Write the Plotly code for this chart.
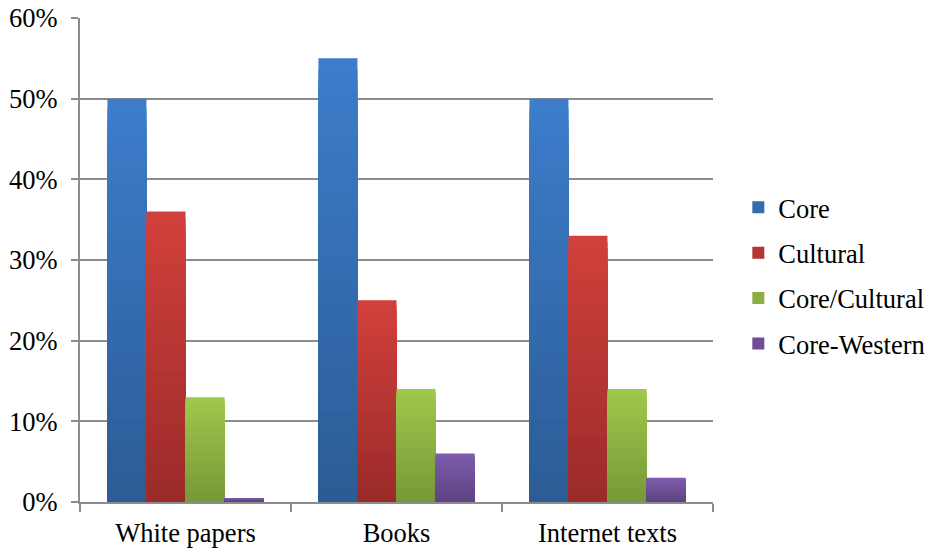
import plotly.graph_objects as go

categories = ["White papers", "Books", "Internet texts"]
series_names = ["Core", "Cultural", "Core/Cultural", "Core-Western"]
core = [0.50, 0.55, 0.50]
cultural = [0.36, 0.25, 0.33]
core_cultural = [0.13, 0.14, 0.14]
core_western = [0.005, 0.06, 0.03]
series_values = [core, cultural, core_cultural, core_western]
y_ticks = [0, 0.1, 0.2, 0.3, 0.4, 0.5, 0.6]

# top (light) and bottom (dark) colour of each series' vertical gradient
gradients = [
    ("#3d7dcc", "#2b5c95"),
    ("#d2403c", "#9a2b29"),
    ("#9fc84c", "#789837"),
    ("#7f5cad", "#5e4381"),
]

STEPS = 40


def hex_to_rgb(h):
    h = h.lstrip("#")
    return tuple(int(h[i:i + 2], 16) for i in (0, 2, 4))


def mix(top, bottom, t):
    a, b = hex_to_rgb(top), hex_to_rgb(bottom)
    r = [round(b[i] + (a[i] - b[i]) * t) for i in range(3)]
    return "rgb({},{},{})".format(*r)


fig = go.Figure()

for name, values, (top, bottom) in zip(series_names, series_values, gradients):
    # nested bars, tallest first, each shorter one painted over the last,
    # so colour shifts from light at the top to dark at the base
    for k in range(STEPS):
        frac = (STEPS - k) / STEPS
        fig.add_trace(go.Bar(
            x=categories,
            y=[v * frac for v in values],
            name=name,
            offsetgroup=name,
            legendgroup=name,
            showlegend=(k == STEPS // 2),
            marker=dict(color=mix(top, bottom, frac - 0.5 / STEPS), line=dict(width=0)),
            hoverinfo="skip",
        ))

grid_color = "#8c8c8c"
font = dict(family="Liberation Serif", size=26.5, color="#000000")

fig.update_layout(
    width=929,
    height=550,
    margin=dict(l=80, r=216, t=18, b=48, autoexpand=False),
    paper_bgcolor="white",
    plot_bgcolor="white",
    font=font,
    barmode="group",
    bargap=0.26,
    bargroupgap=0,
    legend=dict(
        x=1.04, xanchor="left",
        y=0.468, yanchor="middle",
        traceorder="grouped",
        tracegroupgap=8,
        font=font,
        bgcolor="rgba(0,0,0,0)",
    ),
    xaxis=dict(
        automargin=False,
        showline=True,
        linecolor=grid_color,
        linewidth=2,
        ticks="outside",
        tickson="boundaries",
        ticklen=8,
        tickwidth=2,
        tickcolor=grid_color,
        ticklabelstandoff=6,
        tickfont=font,
        showgrid=False,
        fixedrange=True,
    ),
    yaxis=dict(
        automargin=False,
        range=[0, 0.6],
        tickvals=y_ticks,
        tickformat=".0%",
        showline=True,
        linecolor=grid_color,
        linewidth=2,
        ticks="outside",
        ticklen=7,
        tickwidth=2,
        tickcolor=grid_color,
        ticklabelstandoff=8,
        tickfont=font,
        showgrid=True,
        gridcolor=grid_color,
        gridwidth=2,
        zeroline=False,
        fixedrange=True,
    ),
)

fig.write_html("out.html")
